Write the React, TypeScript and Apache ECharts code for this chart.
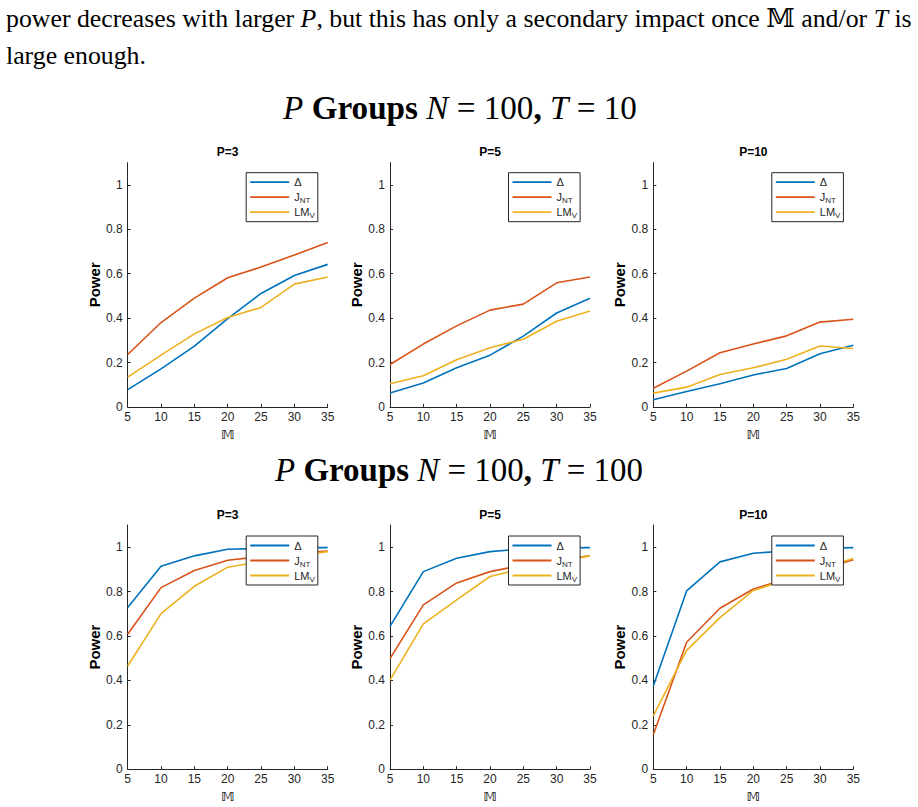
import React, { useEffect, useRef } from 'react';
import * as echarts from 'echarts';

// x positions (M) shared by every panel
const mValues = [5, 10, 15, 20, 25, 30, 35];
const xTicks = [5, 10, 15, 20, 25, 30, 35];
const yTicks = [0, 0.2, 0.4, 0.6, 0.8, 1];
const panelTitles = ['P=3', 'P=5', 'P=10'];
const seriesNames = ['Δ', 'J_NT', 'LM_V'];
const seriesColors = ['#0072BD', '#D95319', '#EDB120'];

// N = 100, T = 10
const deltaT10P3 = [0.078, 0.171, 0.274, 0.398, 0.511, 0.592, 0.642];
const jntT10P3 = [0.236, 0.38, 0.49, 0.582, 0.63, 0.684, 0.741];
const lmvT10P3 = [0.134, 0.233, 0.329, 0.403, 0.448, 0.553, 0.585];

const deltaT10P5 = [0.063, 0.108, 0.176, 0.233, 0.319, 0.423, 0.489];
const jntT10P5 = [0.191, 0.283, 0.365, 0.436, 0.463, 0.559, 0.585];
const lmvT10P5 = [0.104, 0.14, 0.212, 0.266, 0.305, 0.386, 0.432];

const deltaT10P10 = [0.032, 0.069, 0.104, 0.144, 0.173, 0.239, 0.278];
const jntT10P10 = [0.084, 0.161, 0.244, 0.283, 0.32, 0.382, 0.395];
const lmvT10P10 = [0.062, 0.089, 0.146, 0.176, 0.215, 0.274, 0.263];

// N = 100, T = 100
const deltaT100P3 = [0.728, 0.914, 0.961, 0.991, 0.994, 0.998, 0.998];
const jntT100P3 = [0.608, 0.818, 0.895, 0.941, 0.958, 0.972, 0.983];
const lmvT100P3 = [0.465, 0.701, 0.824, 0.91, 0.935, 0.962, 0.98];

const deltaT100P5 = [0.643, 0.89, 0.95, 0.98, 0.992, 0.997, 0.998];
const jntT100P5 = [0.498, 0.74, 0.839, 0.89, 0.92, 0.943, 0.961];
const lmvT100P5 = [0.401, 0.655, 0.763, 0.868, 0.905, 0.935, 0.961];

const deltaT100P10 = [0.375, 0.803, 0.934, 0.973, 0.983, 0.995, 0.998];
const jntT100P10 = [0.155, 0.572, 0.725, 0.812, 0.857, 0.898, 0.943];
const lmvT100P10 = [0.24, 0.535, 0.683, 0.805, 0.853, 0.905, 0.949];

const panels = [
  [deltaT10P3, jntT10P3, lmvT10P3],
  [deltaT10P5, jntT10P5, lmvT10P5],
  [deltaT10P10, jntT10P10, lmvT10P10],
  [deltaT100P3, jntT100P3, lmvT100P3],
  [deltaT100P5, jntT100P5, lmvT100P5],
  [deltaT100P10, jntT100P10, lmvT100P10],
];

type Seg = [string, 'r' | 'i' | 'b'];

const paragraphLine1: Seg[] = [
  ['power decreases with larger ', 'r'],
  ['P', 'i'],
  [', but this has only a secondary impact once 𝕄 and/or ', 'r'],
  ['T', 'i'],
  [' is', 'r'],
];
const paragraphLine2: Seg[] = [['large enough.', 'r']];
const headingT10: Seg[] = [
  ['P', 'i'],
  [' ', 'r'],
  ['Groups', 'b'],
  [' ', 'r'],
  ['N', 'i'],
  [' = 100', 'r'],
  [',', 'b'],
  [' ', 'r'],
  ['T', 'i'],
  [' = 10', 'r'],
];
const headingT100: Seg[] = [
  ['P', 'i'],
  [' ', 'r'],
  ['Groups', 'b'],
  [' ', 'r'],
  ['N', 'i'],
  [' = 100', 'r'],
  [',', 'b'],
  [' ', 'r'],
  ['T', 'i'],
  [' = 100', 'r'],
];

const SERIF = '"Liberation Serif", "DejaVu Serif", serif';
const SANS = '"Liberation Sans", Arial, sans-serif';
const INK = '#262626';

function fontFor(kind: string, size: number) {
  return `${kind === 'i' ? 'italic ' : ''}${kind === 'b' ? 'bold ' : ''}${size}px ${SERIF}`;
}

function measureSegs(segs: Seg[], size: number) {
  const ctx = document.createElement('canvas').getContext('2d')!;
  let w = 0;
  for (const [t, k] of segs) {
    ctx.font = fontFor(k, size);
    w += ctx.measureText(t).width;
  }
  return w;
}

function fitSize(segs: Seg[], width: number) {
  const base = 20;
  return (base * width) / measureSegs(segs, base);
}

function richText(segs: Seg[], size: number, x: number, y: number, align: string) {
  const rich: Record<string, any> = {
    r: { fontFamily: SERIF, fontSize: size, fontStyle: 'normal', fontWeight: 'normal', fill: '#000', color: '#000' },
    i: { fontFamily: SERIF, fontSize: size, fontStyle: 'italic', fontWeight: 'normal', fill: '#000', color: '#000' },
    b: { fontFamily: SERIF, fontSize: size, fontStyle: 'normal', fontWeight: 'bold', fill: '#000', color: '#000' },
  };
  return {
    type: 'text',
    x,
    y,
    style: {
      text: segs.map(([t, k]) => `{${k}|${t}}`).join(''),
      rich,
      align,
      verticalAlign: 'middle',
      fill: '#000',
    },
  };
}

const legendLabel = (name: string) => {
  if (name === 'J_NT') return '{m|J}{s|NT}';
  if (name === 'LM_V') return '{m|LM}{s|V}';
  return '{m|' + name + '}';
};

// a plain horizontal stroke as the legend key (no marker)
const LEGEND_KEY = 'path://M0,0H40V1.6H0Z';

export default function App() {
  const ref = useRef<HTMLDivElement>(null);

  useEffect(() => {
    if (!ref.current) return;
    const chart = echarts.init(ref.current, undefined, { renderer: 'svg' });

    const gridLefts = [127.7, 390, 653.3];
    const gridTops = [162.7, 525];
    const gridW = 200;
    const gridH = 244.2;

    const grids: any[] = [];
    const xAxes: any[] = [];
    const yAxes: any[] = [];
    const legends: any[] = [];
    const series: any[] = [];
    const graphics: any[] = [];

    panels.forEach((lines, p) => {
      const col = p % 3;
      const row = Math.floor(p / 3);
      const left = gridLefts[col];
      const top = gridTops[row];
      grids.push({ left, top, width: gridW, height: gridH, containLabel: false });
      xAxes.push({
        type: 'value',
        gridIndex: p,
        min: 5,
        max: 35,
        interval: 5,
        name: '𝕄',
        nameLocation: 'middle',
        nameGap: 21,
        nameTextStyle: { fontFamily: '"DejaVu Sans", sans-serif', fontSize: 13, fontWeight: 'bold', color: INK },
        axisLine: { show: true, lineStyle: { color: INK, width: 1 } },
        axisTick: { show: true, inside: true, length: 3, lineStyle: { color: INK }, customValues: xTicks },
        axisLabel: { fontFamily: SANS, fontSize: 12, color: INK, margin: 4, customValues: xTicks },
        splitLine: { show: false },
      });
      yAxes.push({
        type: 'value',
        gridIndex: p,
        min: 0,
        max: 1.1,
        name: 'Power',
        nameLocation: 'middle',
        nameGap: 26,
        nameTextStyle: { fontFamily: SANS, fontSize: 15, fontWeight: 'bold', color: '#000' },
        axisLine: { show: true, lineStyle: { color: INK, width: 1 } },
        axisTick: { show: true, inside: true, length: 3, lineStyle: { color: INK }, customValues: yTicks },
        axisLabel: { fontFamily: SANS, fontSize: 12, color: INK, margin: 5, customValues: yTicks },
        splitLine: { show: false },
      });
      legends.push({
        data: seriesNames.map((n) => ({ name: n, icon: LEGEND_KEY })),
        orient: 'vertical',
        z: 20,
        zlevel: 0,
        left: left + 118.5,
        top: top + 10 + row,
        backgroundColor: '#fff',
        borderColor: INK,
        borderWidth: 1,
        borderRadius: 0,
        padding: [2, 3, 2, 4],
        itemGap: 0,
        itemWidth: 39,
        itemHeight: 1.8,
        symbolKeepAspect: false,
        selectedMode: false,
        formatter: legendLabel,
        textStyle: {
          color: INK,
          lineHeight: 15,
          rich: {
            m: { fontFamily: SANS, fontSize: 11, lineHeight: 15, color: INK },
            s: { fontFamily: SANS, fontSize: 8, lineHeight: 9, verticalAlign: 'bottom', color: INK },
          },
        },
      });
      lines.forEach((vals, k) => {
        series.push({
          type: 'line',
          name: seriesNames[k],
          xAxisIndex: p,
          yAxisIndex: p,
          data: mValues.map((m, i) => [m, vals[i]]),
          symbol: 'none',
          showSymbol: false,
          color: seriesColors[k],
          lineStyle: { color: seriesColors[k], width: 1.6 },
          z: 2,
        });
      });
      graphics.push({
        type: 'text',
        x: left + gridW / 2,
        y: top - 10.5,
        style: {
          text: panelTitles[col],
          fontFamily: SANS,
          fontSize: 12,
          fontWeight: 'bold',
          fill: '#000',
          align: 'center',
          verticalAlign: 'middle',
        },
      });
    });

    const pSize = fitSize(paragraphLine1, 906);
    graphics.push(richText(paragraphLine1, pSize, 6, 18.5, 'left'));
    graphics.push(richText(paragraphLine2, pSize, 6, 55, 'left'));
    const h1 = fitSize(headingT10, 354);
    graphics.push(richText(headingT10, h1, 460, 107, 'center'));
    const h2 = fitSize(headingT100, 368);
    graphics.push(richText(headingT100, h2, 459, 470, 'center'));

    chart.setOption({
      animation: false,
      backgroundColor: '#fff',
      grid: grids,
      xAxis: xAxes,
      yAxis: yAxes,
      legend: legends,
      series,
      graphic: graphics,
    });

    return () => chart.dispose();
  }, []);

  return (
    <div
      ref={ref}
      style={{ position: 'absolute', left: 0, top: 0, width: 918, height: 807, background: '#fff' }}
    />
  );
}
